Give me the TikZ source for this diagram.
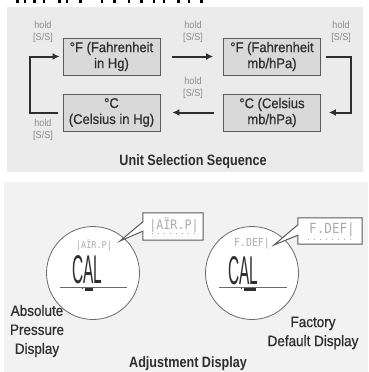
\documentclass[tikz,border=0pt]{standalone}
\usepackage{fontspec}
\setmainfont{Liberation Sans}
\newfontfamily\boxfont{Liberation Sans}[FakeStretch=0.93,FakeBold=0.7]
\newfontfamily\labfont{Liberation Sans}[FakeStretch=0.9,FakeBold=0.7]
\newfontfamily\holdfont{Liberation Sans}[FakeStretch=0.9]
\newfontfamily\headfont{Liberation Sans}[FakeStretch=0.84]
\newfontfamily\segfont{DejaVu Sans Mono}[FakeStretch=0.9]
\usetikzlibrary{arrows.meta}

\definecolor{panelA}{HTML}{EBEBEB}
\definecolor{panelB}{HTML}{F2F2F2}
\definecolor{boxfill}{HTML}{D9D9D9}
\definecolor{boxline}{HTML}{5A5A5A}
\definecolor{ink}{HTML}{2E2E2E}
\definecolor{holdc}{HTML}{8A8A8A}
\definecolor{segc}{HTML}{ABABAB}
\definecolor{rimc}{HTML}{6A6A6A}

\tikzset{
  unitbox/.style={draw=boxline, fill=boxfill, line width=0.9pt,
    minimum width=97pt, minimum height=37pt, inner sep=0pt, align=center,
    text=ink, font=\boxfont\fontsize{14}{16}\selectfont},
  flow/.style={draw=ink, line width=2pt, line join=miter,
    -{Latex[length=7pt,width=7pt]}},
  holdlbl/.style={text=holdc, align=center, inner sep=0pt,
    font=\holdfont\fontsize{10}{12}\selectfont},
  caption/.style={text=ink, align=center, inner sep=0pt,
    font=\labfont\fontsize{15}{19}\selectfont},
  heading/.style={text=ink, inner sep=0pt,
    font=\headfont\bfseries\fontsize{15}{18}\selectfont},
  dial/.style={circle, draw=rimc, fill=white, line width=0.8pt,
    minimum size=93pt, inner sep=0pt},
  bubble/.style={draw=boxline, fill=white, line width=1pt, line join=miter},
  calloutbox/.style={inner sep=0pt},
  segtext/.style={text=segc, inner sep=0pt},
  lcd/.style={text=ink, inner sep=0pt},
  rule/.style={draw=rimc, line width=0.8pt},
}

\begin{document}
\begin{tikzpicture}[x=1pt,y=-1pt]
\useasboundingbox (0,0) rectangle (368,372);
\fill[white] (0,0) rectangle (368,372);

% clipped heading strip
\foreach \p/\w in {16/3,24/2,33/3,43/2,58/3,66/2,79/3,101/2,113/3,128/2,140/3,153/2,163/2,177/3,188/2,200/3}
  \fill[black] (\p,0) rectangle ++(\w,3);

% panels
\fill[panelA] (7,7) rectangle (363,172);
\fill[panelB] (4,182) rectangle (368,372);

% ---------------- unit selection sequence ----------------
\node[unitbox] (f1) at (111.5,56.5) {°F (Fahrenheit\\in Hg)};
\node[unitbox] (f2) at (272,56.5) {°F (Fahrenheit\\mb/hPa)};
\node[unitbox] (c1) at (111.5,112.5) {°C\\(Celsius in Hg)};
\node[unitbox] (c2) at (272,112.5) {°C (Celsius\\mb/hPa)};

\coordinate (rt) at (351,56.5);
\coordinate (rb) at (351,112.5);
\coordinate (lt) at (30,56.5);
\coordinate (lb) at (30,112.5);

\draw[flow] ([xshift=12pt]f1.east) -- ([xshift=-10pt]f2.west);
\draw[flow] ([xshift=5pt]f2.east) -- (rt) -- (rb) -- ([xshift=8pt]c2.east);
\draw[flow] ([xshift=-9pt]c2.west) -- ([xshift=12pt]c1.east);
\draw[flow] ([xshift=-5pt]c1.west) -- (lb) -- (lt) -- ([xshift=-3pt]f1.west);

\node[holdlbl] (h1) at (43,32) {hold\\{[S/S]}};
\node[holdlbl] (h2) at (193,32) {hold\\{[S/S]}};
\node[holdlbl] (h3) at (341,32) {hold\\{[S/S]}};
\node[holdlbl] (h4) at (193,88) {hold\\{[S/S]}};
\node[holdlbl] (h5) at (43,130) {hold\\{[S/S]}};

\node[heading] (t1) at (193,162) {Unit Selection Sequence};

% ---------------- adjustment displays ----------------
\node[dial] (d1) at (93,273) {};
\node[dial] (d2) at (252,273) {};

% readout of the first dial
\node[segtext, font=\segfont\fontsize{9.5}{10}\selectfont] (s1) at (94,245) {|AÏR.P|};
\node[lcd] (cal1) at (87,269.5) {\resizebox{30pt}{28pt}{CAL}};
\draw[rule] (60,287) -- (127,287);
\fill[ink] (85,288) rectangle (93,290.5);
\fill[ink] (81.5,287.5) rectangle (82.8,289);

% readout of the second dial
\node[segtext, font=\segfont\fontsize{11}{12}\selectfont] (s2) at (252,244) {F.DEF|};
\node[lcd] (cal2) at (243,271) {\resizebox{30pt}{28pt}{CAL}};
\draw[rule] (219,287) -- (287,287);
\fill[ink] (244,288) rectangle (256,290.5);
\fill[ink] (240.5,287.5) rectangle (241.8,289);

% callout bubbles
\node[calloutbox, minimum width=60pt, minimum height=27pt] (cb1) at (173,226.5) {};
\coordinate (tip1) at (120,241);
\draw[bubble] (cb1.north west) -- (cb1.north east) -- (cb1.south east)
  -- (cb1.south west) -- ([yshift=9pt]cb1.south west) -- (tip1)
  -- ([yshift=-9pt]cb1.north west) -- cycle;
\node[segtext, font=\segfont\fontsize{13}{14}\selectfont] (z1) at (174,225) {|AÏR.P|};
\draw[segc, line width=0.8pt, dash pattern=on 1pt off 5pt] (152,233) -- (198,233);

\node[calloutbox, minimum width=64pt, minimum height=26pt] (cb2) at (330,231) {};
\coordinate (tip2) at (274,245);
\draw[bubble] (cb2.north west) -- (cb2.north east) -- (cb2.south east)
  -- (cb2.south west) -- ([yshift=9pt]cb2.south west) -- (tip2)
  -- ([yshift=-7pt]cb2.north west) -- cycle;
\node[segtext, font=\segfont\fontsize{14}{15}\selectfont] (z2) at (332,230) {F.DEF|};
\draw[segc, line width=0.8pt, dash pattern=on 1pt off 5pt] (308,239) -- (356,239);

% captions
\node[caption] (a1) at (37,331) {Absolute\\Pressure\\Display};
\node[caption] (a2) at (313,333) {Factory\\Default Display};
\node[heading] (t2) at (188,364) {Adjustment Display};
\end{tikzpicture}
\end{document}
